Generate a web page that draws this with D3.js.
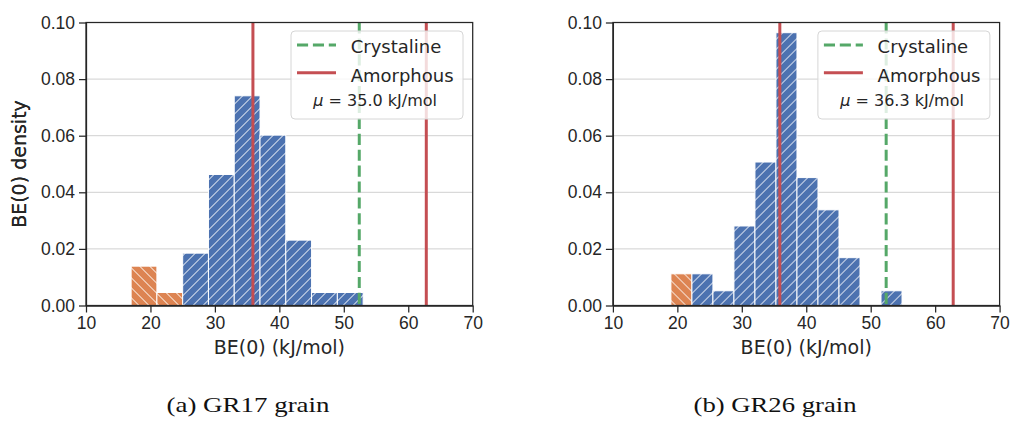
<!DOCTYPE html>
<html>
<head>
<meta charset="utf-8">
<script src="https://cdn.jsdelivr.net/npm/d3@7"></script>
<style>
  body { margin: 0; background: #fff; }
  svg { display: block; font-family: "DejaVu Sans", sans-serif; }
  .axis text { font-size: 17.5px; fill: #262626; }
  .axis path, .axis line { stroke: #262626; stroke-width: 1.25; }
</style>
</head>
<body>
<svg id="chart" width="1013" height="423"></svg>
<script>
// data
const xTicks = [10, 20, 30, 40, 50, 60, 70];
const yTicks = [0, 0.02, 0.04, 0.06, 0.08, 0.10];

const gr17Edges = [17, 21, 25, 29, 33, 37, 41, 45, 49, 53];
const gr17Density = [0.0139, 0.0046, 0.0185, 0.0463, 0.0741, 0.0602, 0.0231, 0.0046, 0.0046];
const gr17LowBins = 2;   // first bins drawn orange

const gr26Edges = [19, 22.26, 25.52, 28.78, 32.04, 35.3, 38.56, 41.82, 45.08, 48.34, 51.6, 54.86];
const gr26Density = [0.0112, 0.0112, 0.0052, 0.0281, 0.0507, 0.0964, 0.0452, 0.0338, 0.0169, 0, 0.0052];
const gr26LowBins = 1;

const crystaline = [52.4];
const amorphous = [35.9, 62.8];
const means = [35.0, 36.3];
const captions = ["(a) GR17 grain", "(b) GR26 grain"];

const blue = "#4c72b0", orange = "#dd8452", green = "#55a868", red = "#c44e52";

const svg = d3.select("#chart");

// hatch patterns
const defs = svg.append("defs");
function hatch(id, color, back) {
    const p = defs.append("pattern")
        .attr("id", id)
        .attr("patternUnits", "userSpaceOnUse")
        .attr("width", 10).attr("height", 10);
    p.append("rect").attr("width", 10).attr("height", 10).attr("fill", color);
    p.append("path")
        .attr("d", back ? "M-2,8 l4,4 M0,0 l10,10 M8,-2 l4,4" : "M-2,2 l4,-4 M0,10 l10,-10 M8,12 l4,-4")
        .attr("stroke", "#fff").attr("stroke-width", 1);
}
hatch("hBlue", blue, false);
hatch("hOrange", orange, true);

const width = 386.7, height = 283;
const marginTop = 22.5;

function panel(left, edges, dens, lowBins, mu, caption, capX) {
    const g = svg.append("g").attr("transform", `translate(${left},${marginTop})`);

    const x = d3.scaleLinear().domain([10, 70]).range([0, width]);
    const y = d3.scaleLinear().domain([0, 0.10]).range([height, 0]);

    // grid
    g.selectAll(".grid").data(yTicks).enter().append("line")
        .attr("x1", 0).attr("x2", width)
        .attr("y1", d => y(d)).attr("y2", d => y(d))
        .attr("stroke", "#d0d0d0").attr("stroke-width", 1);

    // bars
    const bins = dens.map((d, i) => ({ x0: edges[i], x1: edges[i + 1], v: d, low: i < lowBins }))
        .filter(b => b.v > 0);
    g.selectAll(".bar").data(bins).enter().append("rect")
        .attr("class", "bar")
        .attr("x", d => x(d.x0))
        .attr("width", d => x(d.x1) - x(d.x0))
        .attr("y", d => y(d.v))
        .attr("height", d => y(0) - y(d.v))
        .attr("fill", d => d.low ? "url(#hOrange)" : "url(#hBlue)")
        .attr("stroke", "#fff").attr("stroke-width", 1);

    // reference lines
    g.selectAll(".cry").data(crystaline).enter().append("line")
        .attr("x1", d => x(d)).attr("x2", d => x(d))
        .attr("y1", 0).attr("y2", height)
        .attr("stroke", green).attr("stroke-width", 3)
        .attr("stroke-dasharray", "11.1,4.8");
    g.selectAll(".amo").data(amorphous).enter().append("line")
        .attr("x1", d => x(d)).attr("x2", d => x(d))
        .attr("y1", 0).attr("y2", height)
        .attr("stroke", red).attr("stroke-width", 3);

    // axes
    g.append("g").attr("class", "axis")
        .attr("transform", `translate(0,${height})`)
        .call(d3.axisBottom(x).tickValues(xTicks).tickSize(7).tickSizeOuter(0).tickPadding(4));
    g.append("g").attr("class", "axis")
        .call(d3.axisLeft(y).tickValues(yTicks).tickFormat(d3.format(".2f")).tickSize(7).tickSizeOuter(0).tickPadding(4));

    // spines
    g.append("rect").attr("width", width).attr("height", height)
        .attr("fill", "none").attr("stroke", "#262626").attr("stroke-width", 1.25);

    // labels
    g.append("text")
        .attr("x", width / 2).attr("y", height + 48)
        .attr("text-anchor", "middle")
        .style("font-size", "19px").attr("fill", "#262626")
        .text("BE(0) (kJ/mol)");
    g.append("text")
        .attr("transform", "rotate(-90)")
        .attr("x", -(164 - marginTop)).attr("y", 26 - left)
        .attr("text-anchor", "middle")
        .style("font-size", "19px").attr("fill", "#262626")
        .text("BE(0) density");

    // legend
    const lg = g.append("g").attr("transform", `translate(${205},${8.5})`);
    lg.append("rect")
        .attr("width", 172).attr("height", 88).attr("rx", 4)
        .attr("fill", "#fff").attr("fill-opacity", 0.8)
        .attr("stroke", "#d6d6d6").attr("stroke-width", 1);
    lg.append("line").attr("x1", 6).attr("x2", 45).attr("y1", 14).attr("y2", 14)
        .attr("stroke", green).attr("stroke-width", 3).attr("stroke-dasharray", "11.1,4.8");
    lg.append("line").attr("x1", 6).attr("x2", 45).attr("y1", 41.7).attr("y2", 41.7)
        .attr("stroke", red).attr("stroke-width", 3);
    lg.append("text").attr("x", 59.7).attr("y", 22.3)
        .style("font-size", "18px").attr("fill", "#262626").text("Crystaline");
    lg.append("text").attr("x", 59.7).attr("y", 50.7)
        .style("font-size", "18px").attr("fill", "#262626").text("Amorphous");
    const mt = lg.append("text").attr("x", 22.3).attr("y", 75)
        .style("font-size", "16px").attr("fill", "#262626");
    mt.append("tspan").style("font-style", "italic").text("\u03bc");
    mt.append("tspan").text(` = ${mu.toFixed(1)} kJ/mol`);

    // caption
    svg.append("text")
        .attr("x", capX).attr("y", 412)
        .attr("text-anchor", "middle")
        .attr("textLength", 163).attr("lengthAdjust", "spacingAndGlyphs")
        .style("font-family", "'Liberation Serif', serif")
        .style("font-size", "22px").attr("fill", "#111")
        .text(caption);
}

panel(86, gr17Edges, gr17Density, gr17LowBins, means[0], captions[0], 248);
panel(612.9, gr26Edges, gr26Density, gr26LowBins, means[1], captions[1], 775);
</script>
</body>
</html>
